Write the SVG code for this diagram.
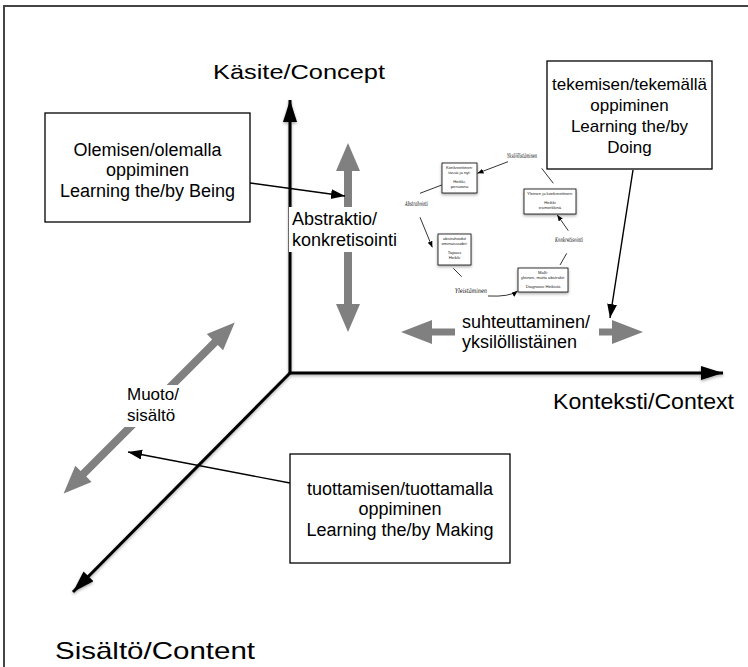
<svg xmlns="http://www.w3.org/2000/svg" width="748" height="667" viewBox="0 0 748 667">
<defs>
<style>
.lbl{font-family:"Liberation Sans",Arial,sans-serif;fill:#000}
.box{fill:#fff;stroke:#000;stroke-width:1.3}
.axis{stroke:#000;stroke-width:3;fill:none}
.thin{stroke:#000;stroke-width:1.4;fill:none}
.gray{fill:#808080}
.sbox{fill:#fff;stroke:#000;stroke-width:0.8}
.tiny{font-family:"Liberation Sans",Arial,sans-serif;font-size:4.2px;fill:#222;text-anchor:middle}
.script{font-family:"DejaVu Serif","Liberation Serif",serif;font-style:italic;font-size:6.5px;fill:#000}
.sl{stroke:#000;stroke-width:0.8;fill:none}
</style>
<marker id="ax" markerUnits="userSpaceOnUse" markerWidth="24" markerHeight="16" refX="22" refY="7" orient="auto">
<path d="M0,0 L22,7 L0,14 Z" fill="#000"/>
</marker>
<marker id="th" markerUnits="userSpaceOnUse" markerWidth="16" markerHeight="12" refX="14" refY="5" orient="auto">
<path d="M0,0 L14,5 L0,10 Z" fill="#000"/>
</marker>
<marker id="sm" markerUnits="userSpaceOnUse" markerWidth="7" markerHeight="6" refX="6" refY="2.5" orient="auto">
<path d="M0,0 L6,2.5 L0,5 Z" fill="#000"/>
</marker>
<filter id="sh" x="-20%" y="-20%" width="140%" height="140%">
<feDropShadow dx="0" dy="1.5" stdDeviation="1.5" flood-color="#000" flood-opacity="0.35"/>
</filter>
</defs>
<rect width="748" height="667" fill="#fff"/>
<path d="M4,667 V6 H748" fill="none" stroke="#444" stroke-width="2"/>

<g id="connectors">
<g filter="url(#sh)">
<line class="axis" x1="290" y1="373" x2="290" y2="100" marker-end="url(#ax)"/>
<line class="axis" x1="289" y1="373" x2="723" y2="373" marker-end="url(#ax)"/>
<line class="axis" x1="291" y1="372" x2="73" y2="592" marker-end="url(#ax)"/>
</g>
<polygon class="gray" points="348,143 360,171 352,171 352,304 360,304 348,332 336,304 344,304 344,171 336,171"/>
<polygon class="gray" points="401,332 432,320 432,328.5 612,328.5 612,320 643,332 612,344 612,335.5 432,335.5 432,344"/>
<polygon class="gray" transform="translate(149.2,408) rotate(-45)" points="-121,0 -93,-11.5 -93,-4 93,-4 93,-11.5 121,0 93,11.5 93,4 -93,4 -93,11.5"/>
<line class="thin" x1="250" y1="183" x2="345" y2="196" marker-end="url(#th)"/>
<line class="thin" x1="633" y1="170" x2="610" y2="318" marker-end="url(#th)"/>
<line class="thin" x1="290" y1="483" x2="128" y2="452" marker-end="url(#th)"/>
<line class="sl" x1="508" y1="161.7" x2="477.5" y2="173.3" marker-end="url(#sm)"/>
<line class="sl" x1="441.7" y1="185" x2="420" y2="193.3"/>
<line class="sl" x1="420" y1="217.3" x2="432.3" y2="247.3" marker-end="url(#sm)"/>
<line class="sl" x1="453.3" y1="268.3" x2="461.7" y2="276.7"/>
<path class="sl" d="M488,296 Q510,297 517.5,291" marker-end="url(#sm)"/>
<line class="sl" x1="541.7" y1="168.3" x2="553.3" y2="183.3"/>
<line class="sl" x1="568.3" y1="230.7" x2="557.3" y2="215" marker-end="url(#sm)"/>
<line class="sl" x1="566.7" y1="253.3" x2="560" y2="265"/>
</g>

<g id="axis-labels">
<text class="lbl" x="213" y="79" font-size="21" textLength="172" lengthAdjust="spacingAndGlyphs">Käsite/Concept</text>
<text class="lbl" x="553" y="409" font-size="22" textLength="181" lengthAdjust="spacingAndGlyphs">Konteksti/Context</text>
<text class="lbl" x="55" y="659" font-size="24" textLength="200" lengthAdjust="spacingAndGlyphs">Sisältö/Content</text>
</g>

<g id="label-abstraktio">
<rect x="289" y="207" width="112" height="45" fill="#fff"/>
<text class="lbl" x="292" y="225" font-size="18">Abstraktio/</text>
<text class="lbl" x="292" y="246" font-size="18">konkretisointi</text>
</g>
<g id="label-suhteuttaminen">
<rect x="455" y="312" width="144" height="42" fill="#fff"/>
<text class="lbl" x="462" y="328" font-size="18">suhteuttaminen/</text>
<text class="lbl" x="462" y="348" font-size="18">yksilöllistäinen</text>
</g>
<g id="label-muoto">
<rect x="124" y="385" width="62" height="42" fill="#fff"/>
<text class="lbl" x="127" y="400" font-size="17">Muoto/</text>
<text class="lbl" x="127" y="421" font-size="17">sisältö</text>
</g>

<g id="node-being">
<rect class="box" x="45" y="113" width="205" height="109"/>
<text class="lbl" font-size="18" text-anchor="middle"><tspan x="147.5" y="156">Olemisen/olemalla</tspan><tspan x="147.5" y="176">oppiminen</tspan><tspan x="147.5" y="197">Learning the/by Being</tspan></text>
</g>
<g id="node-doing">
<rect class="box" x="547" y="61" width="165" height="108"/>
<text class="lbl" font-size="17" text-anchor="middle"><tspan x="629.5" y="90">tekemisen/tekemällä</tspan><tspan x="629.5" y="111">oppiminen</tspan><tspan x="629.5" y="132">Learning the/by</tspan><tspan x="629.5" y="153">Doing</tspan></text>
</g>
<g id="node-making">
<rect class="box" x="290" y="454" width="220" height="109"/>
<text class="lbl" font-size="18" text-anchor="middle"><tspan x="400" y="495">tuottamisen/tuottamalla</tspan><tspan x="400" y="515">oppiminen</tspan><tspan x="400" y="536">Learning the/by Making</tspan></text>
</g>

<g id="cycle-concrete">
<rect class="sbox" x="442" y="163" width="35" height="30" filter="url(#sh)"/>
<text class="tiny"><tspan x="459.5" y="169">Konkreettinen:</tspan><tspan x="459.5" y="174">tässä ja nyt:</tspan><tspan x="459.5" y="183">Heikki,</tspan><tspan x="459.5" y="188">persoona</tspan></text>
</g>
<g id="cycle-abstracted">
<rect class="sbox" x="438" y="234" width="33" height="31" filter="url(#sh)"/>
<text class="tiny"><tspan x="454.5" y="240">abstrahoidut</tspan><tspan x="454.5" y="245">ominaisuudet:</tspan><tspan x="454.5" y="254">Tapaus</tspan><tspan x="454.5" y="259">Heikki</tspan></text>
</g>
<g id="cycle-model">
<rect class="sbox" x="518" y="268" width="50" height="24" filter="url(#sh)"/>
<text class="tiny"><tspan x="543" y="274">Malli:</tspan><tspan x="543" y="279">yleinen, mutta abstrakti:</tspan><tspan x="543" y="288">Diagnoosi Heikistä</tspan></text>
</g>
<g id="cycle-general">
<rect class="sbox" x="524" y="189" width="52" height="25" filter="url(#sh)"/>
<text class="tiny"><tspan x="550" y="195">Yleinen ja konkreettinen:</tspan><tspan x="550" y="204">Heikki</tspan><tspan x="550" y="209">esimerkkinä</tspan></text>
</g>
<g id="cycle-labels">
<text class="script" x="507" y="158" textLength="30" lengthAdjust="spacingAndGlyphs">Yksilöllistäminen</text>
<text class="script" x="405" y="206" textLength="23" lengthAdjust="spacingAndGlyphs">Abstrahointi</text>
<text class="script" x="455" y="293" textLength="32" lengthAdjust="spacingAndGlyphs">Yleistäminen</text>
<text class="script" x="555" y="242" textLength="28" lengthAdjust="spacingAndGlyphs">Konkretisointi</text>
</g>
</svg>
